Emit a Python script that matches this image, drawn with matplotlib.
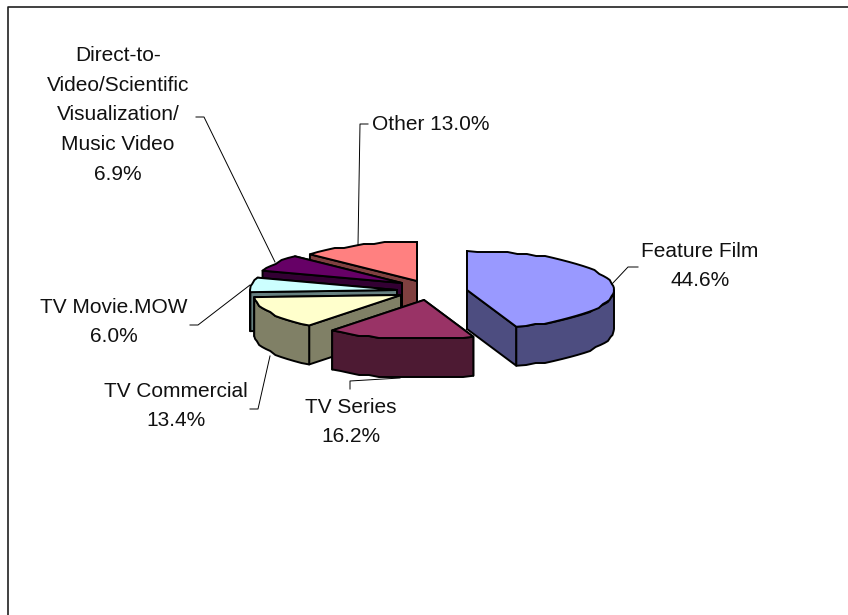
import numpy as np
import matplotlib
matplotlib.use('Agg')
import matplotlib.pyplot as plt
from matplotlib.patches import Polygon

plt.rcParams['font.family'] = ['Liberation Sans', 'DejaVu Sans']

names = ['Feature Film', 'TV Series', 'TV Commercial', 'TV Movie.MOW',
         'Direct-to-\nVideo/Scientific\nVisualization/\nMusic Video', 'Other']
shares = [44.6, 16.2, 13.4, 6.0, 6.9, 13.0]
top_colors = ['#9999FF', '#993366', '#FFFFCC', '#CCFFFF', '#660066', '#FF8080']
wall_colors = ['#4D4D80', '#4D1A33', '#808066', '#668080', '#330033', '#804040']

# layout, in pixels of the saved picture
radius = 147
tilt = 39 / 147
depth = 39
centres = [(467, 290), (424, 300), (401, 295), (397, 290), (402, 283), (417, 281)]
label_pos = [(700, 266), (351, 422), (176, 406), (114, 322), (118, 115), (372, 124)]
leaders = [[(638, 267), (628, 267), (612, 284)],
           [(350, 389), (350, 381), (400, 378)],
           [(250, 409), (258, 409), (270, 356)],
           [(190, 325), (198, 325), (250, 285)],
           [(196, 117), (204, 117), (275, 262)],
           [(368, 124), (360, 124), (358, 245)]]
draw_order = [5, 4, 3, 2, 1, 0]


def rim(c, a0, a1):
    # points on the ellipse, clockwise from 12 o'clock, a bit rough like the original
    n = max(2, int(np.degrees(a1 - a0) / 4) + 1)
    a = np.linspace(a0, a1, n)
    x = c[0] + radius * np.sin(a)
    y = c[1] - radius * tilt * np.cos(a)
    y[1:-1] = np.round(y[1:-1] / 2) * 2
    return np.column_stack([x, y])


fig = plt.figure(figsize=(8.48, 6.15), dpi=100)
ax = fig.add_axes([0, 0, 1, 1])
ax.set_xlim(0, 848)
ax.set_ylim(615, 0)
ax.axis('off')

# only the top and left of the frame are in the picture
ax.plot([8, 8, 860], [640, 7, 7], color='#202020', lw=1.2)

edges = np.radians(np.cumsum([0] + shares) * 360 / sum(shares))
down = np.array([0, depth])
for i in draw_order:
    c = centres[i]
    a0, a1 = edges[i], edges[i + 1]
    kw = dict(ec='black', lw=1.4, joinstyle='round')
    # cut faces, far one first, then the front of the rim
    for a in sorted((a0, a1), key=lambda v: -np.cos(v)):
        p = rim(c, a, a)[:1]
        quad = np.vstack([c, p, p + down, np.array(c) + down])
        ax.add_patch(Polygon(quad, fc=wall_colors[i], **kw))
    f0, f1 = max(a0, np.pi / 2), min(a1, 3 * np.pi / 2)
    if f1 > f0:
        r = rim(c, f0, f1)
        ax.add_patch(Polygon(np.vstack([r, (r + down)[::-1]]), fc=wall_colors[i], **kw))
    ax.add_patch(Polygon(np.vstack([c, rim(c, a0, a1)]), fc=top_colors[i], **kw))

for i, name in enumerate(names):
    lx, ly = zip(*leaders[i])
    ax.plot(lx, ly, color='black', lw=0.7)
    if name == 'Other':
        ax.text(*label_pos[i], f'{name} {shares[i]:.1f}%', fontsize=15, color='#111111',
                ha='left', va='center')
    else:
        ax.text(*label_pos[i], f'{name}\n{shares[i]:.1f}%', fontsize=15, color='#111111',
                ha='center', va='center', linespacing=1.72)

fig.savefig('out.png', dpi=100)
